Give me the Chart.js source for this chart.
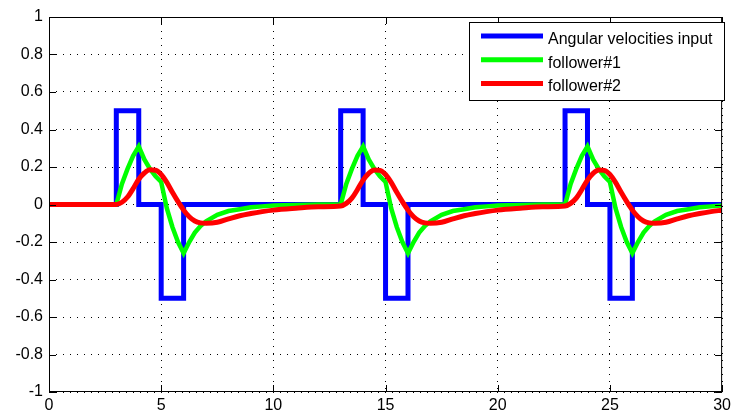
<!DOCTYPE html>
<html>
<head>
<meta charset="utf-8">
<script src="https://cdn.jsdelivr.net/npm/chart.js@4.4.1/dist/chart.umd.min.js"></script>
<style>
  body { margin: 0; background: #fff; }
</style>
</head>
<body>
<canvas id="velChart" width="735" height="419"></canvas>
<script>
// axis ticks
var xTicks = [0, 5, 10, 15, 20, 25, 30];
var yTicks = [-1, -0.8, -0.6, -0.4, -0.2, 0, 0.2, 0.4, 0.6, 0.8, 1];

// square wave input (time, value)
var inputX = [0, 3, 3, 4, 4, 5, 5, 6, 6, 13, 13, 14, 14, 15, 15, 16, 16, 23, 23, 24, 24, 25, 25, 26, 26, 30];
var inputY = [0, 0, 0.5, 0.5, 0, 0, -0.5, -0.5, 0, 0, 0.5, 0.5, 0, 0, -0.5, -0.5, 0, 0, 0.5, 0.5, 0, 0, -0.5, -0.5, 0, 0];

// sample times for both followers
var followerX = [
  0, 1, 2, 3, 3.25, 3.5, 3.75, 4, 4.25, 4.5, 4.75, 5, 5.25, 5.5, 5.75, 6, 6.25, 6.5, 6.75, 7, 7.5, 8, 8.5, 9, 9.5, 10, 11, 12, 13,
  13.25, 13.5, 13.75, 14, 14.25, 14.5, 14.75, 15, 15.25, 15.5, 15.75, 16, 16.25, 16.5, 16.75, 17, 17.5, 18, 18.5, 19, 19.5, 20, 21, 22, 23,
  23.25, 23.5, 23.75, 24, 24.25, 24.5, 24.75, 25, 25.25, 25.5, 25.75, 26, 26.25, 26.5, 26.75, 27, 27.5, 28, 28.5, 29, 29.5, 30
];
var follower1 = [
  0, 0, 0, 0, 0.11, 0.19, 0.26, 0.31, 0.24, 0.19, 0.15, 0.12, -0.02, -0.12, -0.2, -0.26, -0.2, -0.15, -0.115, -0.09, -0.055, -0.035, -0.025, -0.015, -0.01, -0.005, -0.002, 0, 0,
  0.11, 0.19, 0.26, 0.31, 0.24, 0.19, 0.15, 0.12, -0.02, -0.12, -0.2, -0.26, -0.2, -0.15, -0.115, -0.09, -0.055, -0.035, -0.025, -0.015, -0.01, -0.005, -0.002, 0, 0,
  0.11, 0.19, 0.26, 0.31, 0.24, 0.19, 0.15, 0.12, -0.02, -0.12, -0.2, -0.26, -0.2, -0.15, -0.115, -0.09, -0.055, -0.035, -0.025, -0.015, -0.01, -0.005
];
var follower2 = [
  0, 0, 0, 0, 0.012, 0.04, 0.085, 0.135, 0.168, 0.185, 0.183, 0.16, 0.118, 0.065, 0.015, -0.03, -0.065, -0.088, -0.098, -0.1, -0.095, -0.077, -0.06, -0.048, -0.038, -0.03, -0.02, -0.012, -0.008,
  0.006, 0.034, 0.08, 0.13, 0.166, 0.184, 0.182, 0.16, 0.118, 0.065, 0.015, -0.03, -0.065, -0.088, -0.098, -0.1, -0.095, -0.077, -0.06, -0.048, -0.038, -0.03, -0.02, -0.012, -0.008,
  0.006, 0.034, 0.08, 0.13, 0.166, 0.184, 0.182, 0.16, 0.118, 0.065, 0.015, -0.03, -0.065, -0.088, -0.098, -0.1, -0.095, -0.077, -0.06, -0.048, -0.038, -0.03
];

function pts(xs, ys) {
  return xs.map(function (x, i) { return { x: x, y: ys[i] }; });
}

// box, inward ticks and the legend, matlab style
var framePlugin = {
  id: 'frame',
  afterDatasetsDraw: function (chart) {
    var ctx = chart.ctx, a = chart.chartArea;
    var sx = chart.scales.x, sy = chart.scales.y;
    ctx.save();
    ctx.strokeStyle = '#000';
    ctx.lineWidth = 1;
    ctx.strokeRect(a.left + 0.5, a.top + 0.5, a.right - a.left - 1, a.bottom - a.top - 1);
    ctx.beginPath();
    xTicks.forEach(function (v) {
      var px = Math.round(sx.getPixelForValue(v)) + 0.5;
      ctx.moveTo(px, a.bottom); ctx.lineTo(px, a.bottom - 7);
      ctx.moveTo(px, a.top); ctx.lineTo(px, a.top + 7);
    });
    yTicks.forEach(function (v) {
      var py = Math.round(sy.getPixelForValue(v)) + 0.5;
      ctx.moveTo(a.left, py); ctx.lineTo(a.left + 7, py);
      ctx.moveTo(a.right, py); ctx.lineTo(a.right - 7, py);
    });
    ctx.stroke();

    // legend box
    ctx.fillStyle = '#fff';
    ctx.fillRect(469, 22, 255, 78);
    ctx.strokeRect(469.5, 22.5, 255, 78);
    ctx.font = '16px "Liberation Sans", Arial, sans-serif';
    ctx.textBaseline = 'alphabetic';
    chart.data.datasets.forEach(function (ds, i) {
      var ly = 36 + i * 23.7;
      ctx.strokeStyle = ds.borderColor;
      ctx.lineWidth = 5;
      ctx.beginPath();
      ctx.moveTo(481, ly); ctx.lineTo(543, ly);
      ctx.stroke();
      ctx.fillStyle = '#000';
      ctx.fillText(ds.label, 548, ly + 8);
    });
    ctx.restore();
  }
};

var tickFont = { family: '"Liberation Sans", Arial, sans-serif', size: 16 };

new Chart(document.getElementById('velChart'), {
  type: 'line',
  data: {
    datasets: [
      {
        label: 'Angular velocities input',
        data: pts(inputX, inputY),
        borderColor: '#0000ff',
        borderWidth: 5,
        borderJoinStyle: 'miter',
        tension: 0,
        order: 3
      },
      {
        label: 'follower#1',
        data: pts(followerX, follower1),
        borderColor: '#00ff00',
        borderWidth: 4.5,
        tension: 0,
        order: 2
      },
      {
        label: 'follower#2',
        data: pts(followerX, follower2),
        borderColor: '#ff0000',
        borderWidth: 5,
        cubicInterpolationMode: 'monotone',
        order: 1
      }
    ]
  },
  options: {
    responsive: false,
    animation: false,
    layout: { padding: { top: 17, right: 9, left: 0, bottom: 0 } },
    elements: { point: { radius: 0 } },
    plugins: { legend: { display: false }, tooltip: { enabled: false } },
    scales: {
      x: {
        type: 'linear',
        min: 0,
        max: 30,
        afterBuildTicks: function (s) { s.ticks = xTicks.map(function (v) { return { value: v }; }); },
        afterFit: function (s) { s.height = 27; },
        ticks: { color: '#000', font: tickFont, padding: 4, maxRotation: 0, autoSkip: false },
        grid: { color: '#000', lineWidth: 1, drawTicks: false },
        border: { display: false, dash: [1, 6] }
      },
      y: {
        min: -1,
        max: 1,
        afterBuildTicks: function (s) { s.ticks = yTicks.map(function (v) { return { value: v }; }); },
        afterFit: function (s) { s.width = 49; },
        ticks: {
          color: '#000', font: tickFont, padding: 6, autoSkip: false,
          callback: function (v) { return String(Math.round(v * 10) / 10); }
        },
        grid: { color: '#000', lineWidth: 1, drawTicks: false },
        border: { display: false, dash: [1, 6] }
      }
    }
  },
  plugins: [framePlugin]
});
</script>
</body>
</html>
